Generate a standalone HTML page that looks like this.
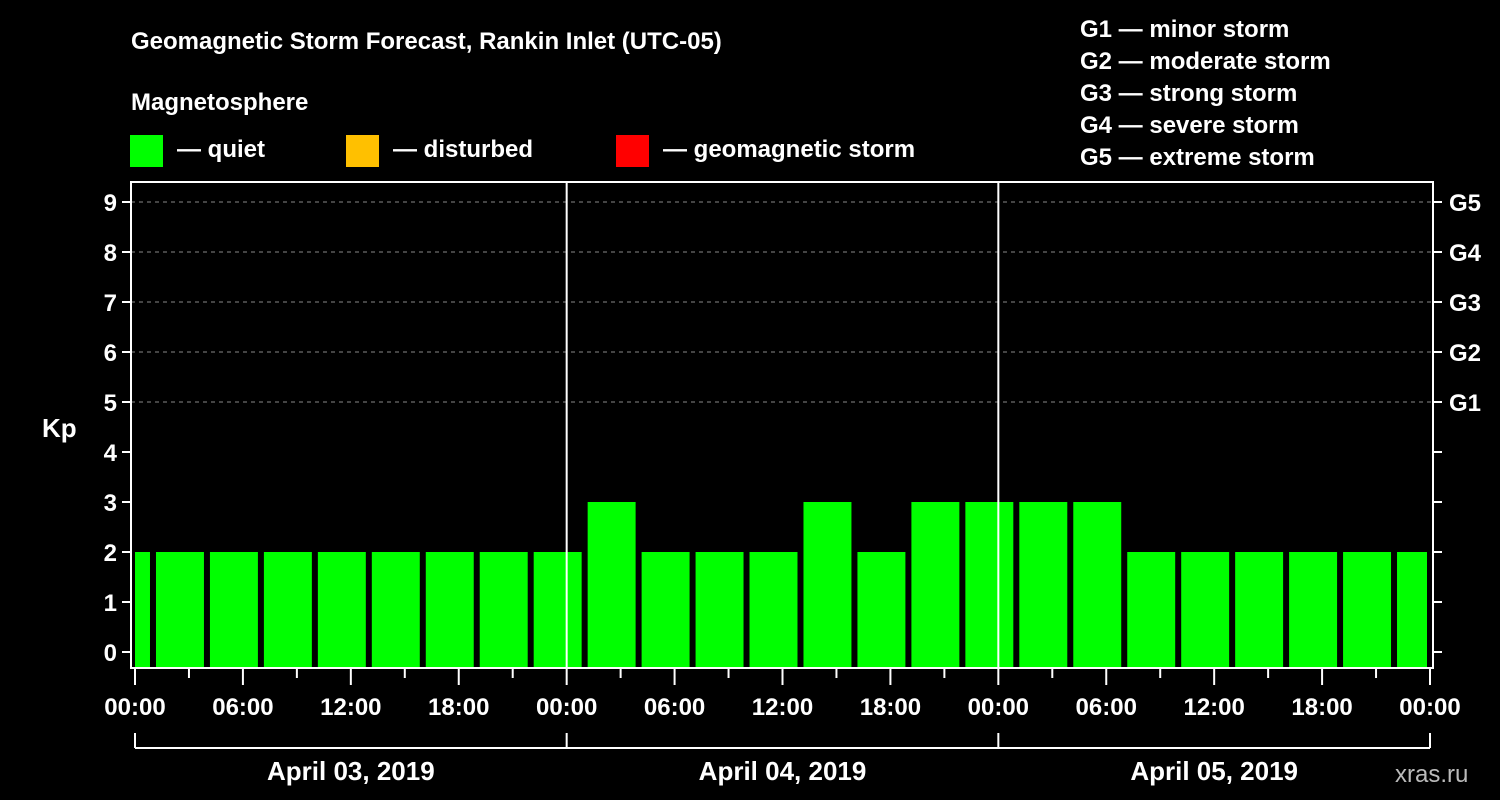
<!DOCTYPE html>
<html><head><meta charset="utf-8"><style>
html,body{margin:0;padding:0;background:#000;}
svg{display:block;font-family:"Liberation Sans",Arial,sans-serif;font-weight:bold;}
</style></head><body>
<svg id="chart" width="1500" height="800" viewBox="0 0 1500 800" xmlns="http://www.w3.org/2000/svg">
<rect x="0" y="0" width="1500" height="800" fill="#000"/>
<text x="131" y="49" fill="#fff" font-size="24">Geomagnetic Storm Forecast, Rankin Inlet (UTC-05)</text>
<text x="131" y="110" fill="#fff" font-size="24">Magnetosphere</text>
<g><rect x="130" y="135" width="33" height="32" fill="#00ff00"/><text x="177" y="157" fill="#fff" font-size="24">— quiet</text></g>
<g><rect x="346" y="135" width="33" height="32" fill="#ffc000"/><text x="393" y="157" fill="#fff" font-size="24">— disturbed</text></g>
<g><rect x="616" y="135" width="33" height="32" fill="#ff0000"/><text x="663" y="157" fill="#fff" font-size="24">— geomagnetic storm</text></g>
<g fill="#fff" font-size="24">
<text x="1080" y="37">G1 — minor storm</text>
<text x="1080" y="69">G2 — moderate storm</text>
<text x="1080" y="101">G3 — strong storm</text>
<text x="1080" y="133">G4 — severe storm</text>
<text x="1080" y="165">G5 — extreme storm</text>
</g>
<text x="42" y="437" fill="#fff" font-size="26">Kp</text>
<text x="1395" y="782" fill="#bbb" font-size="24" font-weight="normal">xras.ru</text>
<g id="grid"></g>
<g id="bars"></g>
<g id="axes"></g>
</svg>
<script>
// Kp values per 3-hour UTC block (local start hours shown in startHours)
const startHours = [0,1,4,7,10,13,16,19,22,25,28,31,34,37,40,43,46,49,52,55,58,61,64,67,70];
const endHours   = [1,4,7,10,13,16,19,22,25,28,31,34,37,40,43,46,49,52,55,58,61,64,67,70,72];
const kpValues   = [2,2,2,2,2,2,2,2,2,3,2,2,2,3,2,3,3,3,3,2,2,2,2,2,2];
const xTickLabels = ["00:00","06:00","12:00","18:00","00:00","06:00","12:00","18:00","00:00","06:00","12:00","18:00","00:00"];
const yTicks = [0,1,2,3,4,5,6,7,8,9];
const gLabels = ["G1","G2","G3","G4","G5"];
const dayLabels = ["April 03, 2019","April 04, 2019","April 05, 2019"];

const NS="http://www.w3.org/2000/svg";
const X0=135, X1=1430, HRS=72;
const FL=131, FR=1433, FT=182, FB=668;
const xS=h=>X0+(X1-X0)*h/HRS;
const yS=v=>652-50*v;
function mk(parent,tag,attrs){const e=document.createElementNS(NS,tag);for(const k in attrs)e.setAttribute(k,attrs[k]);parent.appendChild(e);return e;}
const grid=document.getElementById('grid'),bars=document.getElementById('bars'),axes=document.getElementById('axes');

for(let v=5;v<=9;v++){
  const l=mk(grid,'line',{x1:FL,x2:FR,y1:yS(v),y2:yS(v),stroke:'#888','stroke-width':1,'stroke-dasharray':'4,4'});
  
  
}
kpValues.forEach((v,i)=>{
  const a=xS(startHours[i])+(i===0?0:3), b=xS(endHours[i])-3;
  const c=v>=5?'#ff0000':(v>=4?'#ffc000':'#00ff00');
  const r=mk(bars,'rect',{x:a,y:yS(v),width:b-a,height:FB-yS(v),fill:c});
  
  
});
// frame
const fr=mk(axes,'rect',{x:FL,y:FT,width:FR-FL,height:FB-FT,fill:'none',stroke:'#fff','stroke-width':2});


// day separators
[24,48].forEach(h=>{
  const l=mk(axes,'line',{x1:xS(h),x2:xS(h),y1:FT,y2:FB,stroke:'#fff','stroke-width':2});
  
  
});
yTicks.forEach(v=>{
  mk(axes,'line',{x1:FL-9,x2:FL,y1:yS(v),y2:yS(v),stroke:'#fff','stroke-width':2});
  mk(axes,'line',{x1:FR,x2:FR+9,y1:yS(v),y2:yS(v),stroke:'#fff','stroke-width':2});
  const t=mk(axes,'text',{x:FL-14,y:yS(v)+9,fill:'#fff','font-size':24,'text-anchor':'end'});
  t.textContent=v;
  
  
});
gLabels.forEach((g,i)=>{
  const t=mk(axes,'text',{x:FR+16,y:yS(5+i)+9,fill:'#fff','font-size':24});
  t.textContent=g;
  
  
});
for(let h=0;h<=HRS;h+=3){
  const long=h%6===0;
  mk(axes,'line',{x1:xS(h),x2:xS(h),y1:FB,y2:FB+(long?17:10),stroke:'#fff','stroke-width':2});
}
xTickLabels.forEach((s,i)=>{
  const t=mk(axes,'text',{x:xS(i*6),y:715,fill:'#fff','font-size':24,'text-anchor':'middle'});
  t.textContent=s;
  
  
});
const br=mk(axes,'path',{d:'',fill:'none',stroke:'#fff','stroke-width':2});
let d='M'+xS(0)+' 748 H'+xS(72);
[0,24,48,72].forEach(h=>{d+=' M'+xS(h)+' 748 V733';});
br.setAttribute('d',d);


dayLabels.forEach((s,i)=>{
  const t=mk(axes,'text',{x:xS(i*24+12),y:780,fill:'#fff','font-size':26,'text-anchor':'middle'});
  t.textContent=s;
  
  
});
</script>
</body></html>
